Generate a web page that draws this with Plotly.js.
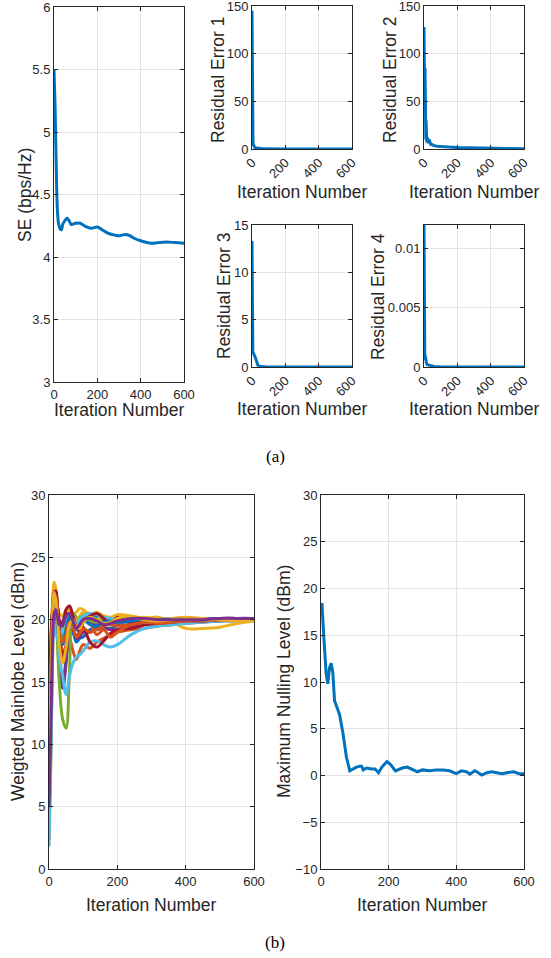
<!DOCTYPE html>
<html>
<head>
<meta charset="utf-8">
<script src="https://cdn.plot.ly/plotly-3.0.1.min.js"></script>
<style>html,body{margin:0;padding:0;background:#fff;}#chart{width:551px;height:958px;}</style>
</head>
<body>
<div id="chart"></div>
<script>
// ---------- data: (a) ----------
const seIter = [0, 5, 10, 15, 20, 25, 30, 35, 40, 50, 60, 70, 80, 100, 120, 140, 170, 200, 220, 250, 280, 300, 330, 350, 370, 400, 420, 450, 480, 520, 560, 600];
const seVal  = [5.5, 5.2, 4.75, 4.4, 4.28, 4.24, 4.22, 4.22, 4.26, 4.29, 4.31, 4.29, 4.26, 4.27, 4.27, 4.25, 4.23, 4.24, 4.22, 4.19, 4.175, 4.17, 4.18, 4.17, 4.15, 4.13, 4.12, 4.11, 4.115, 4.12, 4.115, 4.11];

const r1Iter = [0, 1, 2, 3, 4, 5, 6, 8, 10, 15, 20, 30, 40, 60, 80, 100, 150, 200, 300, 400, 500, 600];
const r1Val  = [145, 60, 20, 57, 15, 17, 8, 5, 3, 2, 1.2, 0.8, 0.5, 0.3, 0.2, 0.1, 0.05, 0.03, 0.02, 0.01, 0.01, 0.01];

const r2Iter = [0, 1, 2, 3, 4, 5, 6, 7, 8, 9, 10, 11, 12, 14, 15, 17, 20, 25, 30, 40, 50, 60, 80, 100, 150, 200, 300, 400, 500, 600];
const r2Val  = [128, 40, 115, 45, 95, 38, 85, 30, 50, 12, 45, 10, 30, 8, 12, 7, 12, 6, 10, 5, 4.5, 3.5, 3, 2.5, 2, 1.5, 1, 0.5, 0.4, 0.3];

const r3Iter = [0, 1, 2, 3, 5, 8, 10, 15, 20, 25, 30, 35, 40, 50, 60, 80, 100, 200, 300, 400, 500, 600];
const r3Val  = [13.3, 8, 3, 1.7, 1.6, 1.5, 1.3, 1.2, 1.0, 0.7, 0.35, 0.2, 0.12, 0.06, 0.04, 0.02, 0.01, 0, 0, 0, 0, 0];

const r4Iter = [0, 1, 2, 3, 4, 5, 7, 10, 15, 20, 30, 40, 60, 100, 200, 400, 600];
const r4Val  = [0.012, 0.002, 0.0032, 0.0008, 0.0025, 0.0006, 0.001, 0.0004, 0.0003, 0.0002, 0.00015, 0.0001, 0.00005, 0.00002, 0.00001, 0, 0];

// ---------- data: (b) ----------
const mainIter = [0, 5, 10, 15, 20, 25, 30, 40, 50, 60, 70, 80, 90, 100, 120, 140, 160, 180, 200, 240, 280, 320, 360, 400, 450, 500, 550, 600];
const mainBlue1   = [4.8, 12, 18, 21, 21.5, 20, 17, 14.6, 17, 19.3, 19, 18.2, 18.5, 18.6, 19.2, 19.4, 19.3, 19.3, 19.5, 19.6, 19.6, 19.7, 19.8, 19.8, 19.9, 19.9, 20, 20];
const mainOrange1 = [14.8, 18, 21, 22.5, 21.5, 20, 18.5, 17.5, 17.2, 18.5, 17.5, 16.8, 17.5, 18.0, 17.7, 18.2, 18.5, 18.8, 19.0, 19.2, 19.3, 19.5, 19.6, 19.7, 19.8, 19.9, 19.9, 20];
const mainYellow1 = [13, 17, 21, 23, 22.5, 21, 20.5, 20.3, 20.8, 20.9, 20.5, 20.6, 20.9, 20.8, 20.4, 20.6, 20.3, 20.2, 20.4, 20.3, 20.1, 20.2, 19.8, 19.3, 19.3, 19.4, 19.7, 19.9];
const mainPurple1 = [2.3, 10, 18, 21.5, 22, 20, 16, 14.5, 16.5, 19, 19.2, 18.5, 18.6, 19.0, 19.0, 19.2, 19.3, 19.2, 19.2, 19.5, 19.7, 19.8, 19.9, 19.9, 20.0, 20.0, 20.1, 20.1];
const mainGreen1  = [2.5, 8, 16, 21, 20.5, 18, 15, 12, 11.3, 16, 20.5, 20.2, 19.8, 20.3, 20.5, 20.0, 19.8, 19.9, 20.1, 19.8, 19.9, 20.0, 20.0, 20.0, 20.1, 20.0, 20.0, 20.0];
const mainCyan1   = [1.8, 9, 17, 21, 22, 20, 17, 15.5, 14, 15.5, 16.5, 17, 17.2, 17.5, 18.2, 18.3, 18.0, 17.8, 18.0, 18.8, 19.3, 19.5, 19.6, 19.7, 19.8, 19.9, 19.9, 20];
const mainRed1    = [9, 14, 20, 22.2, 22.3, 21, 18.5, 17, 18, 19.5, 19.2, 18.7, 19.0, 19.4, 18.2, 17.8, 18.3, 18.9, 19.2, 19.3, 19.6, 19.7, 19.8, 19.9, 19.9, 20.0, 20.0, 20.1];
const mainBlue2   = [7.5, 14, 18.5, 19.5, 19.2, 19.7, 19.3, 18.8, 19.0, 19.8, 20.1, 19.8, 19.5, 19.8, 20.1, 20.2, 19.9, 19.8, 20.0, 20.1, 19.9, 20.0, 20.1, 20.0, 20.0, 20.1, 20.0, 20.0];
const mainOrange2 = [10, 15, 19.5, 21, 21.2, 20.5, 19.8, 19.5, 20.2, 20.6, 19.8, 19.6, 20.1, 20.4, 19.8, 18.8, 19.2, 18.6, 19.0, 19.6, 19.8, 19.7, 19.8, 19.9, 19.9, 20.0, 20.0, 20.0];
const mainYellow2 = [9, 14, 19, 21.5, 21, 20.2, 19.5, 19.8, 20.5, 20.8, 20.2, 19.9, 20.3, 20.6, 20.2, 20.0, 20.3, 20.1, 19.9, 20.1, 20.2, 20.0, 20.1, 20.2, 20.1, 20.0, 20.0, 19.9];
const mainPurple2 = [11, 16, 20, 21, 20.5, 19.5, 19.2, 19.8, 20.5, 20.2, 19.6, 19.5, 20.0, 20.2, 19.7, 19.6, 19.8, 19.9, 19.7, 19.9, 20.0, 19.9, 20.0, 20.1, 20.0, 20.1, 20.1, 20.1];
const mainGreen2  = [13.5, 17, 20.5, 21.3, 20.8, 19.8, 19.0, 18.5, 19.5, 20.4, 20.0, 19.7, 20.1, 20.3, 19.9, 19.8, 20.1, 20.0, 19.8, 19.9, 20.0, 20.0, 19.9, 20.0, 20.0, 20.0, 20.0, 20.0];
const mainCyan2   = [14, 17, 19.5, 20, 19.2, 18.5, 18.5, 19.3, 20.0, 19.6, 19.3, 19.6, 20.0, 20.3, 20.5, 20.4, 20.2, 20.1, 20.0, 19.7, 19.8, 19.9, 20.0, 20.0, 20.0, 20.0, 20.0, 20.0];
const mainRed2    = [14.5, 18, 20.5, 21, 20.8, 21, 20, 19.5, 20.8, 21.1, 20.3, 19.4, 19.0, 19.8, 20.3, 20.5, 20.1, 19.7, 20.2, 19.7, 19.9, 20.0, 20.0, 20.0, 20.0, 20.0, 20.0, 20.0];
const mainBlue3   = [6, 13, 19, 21.8, 21, 19.5, 18.5, 18, 19.2, 20.2, 19.8, 19.2, 19.5, 20.0, 19.6, 19.5, 19.8, 19.9, 19.8, 19.9, 20.0, 20.0, 20.0, 20.0, 20.0, 20.1, 20.0, 20.0];
const mainOrange3 = [12, 16, 20, 22, 21.8, 20.5, 19, 18.2, 18.8, 19.8, 19.4, 18.6, 18.9, 19.3, 19.0, 19.2, 19.5, 19.6, 19.5, 19.6, 19.8, 19.8, 19.9, 19.9, 20.0, 20.0, 20.0, 20.0];
const mainYellow3 = [8, 14, 19.5, 22.2, 21.5, 20.0, 18.0, 16.5, 17.8, 19.6, 20.0, 19.4, 19.3, 19.8, 20.2, 20.0, 19.7, 19.8, 20.1, 20.2, 20.0, 19.9, 20.0, 20.1, 20.0, 20.0, 19.9, 19.9];
const mainPurple3 = [5, 11, 17.5, 20.5, 20.8, 20.2, 19.6, 19.6, 20.3, 20.5, 19.9, 19.3, 19.6, 20.0, 20.1, 19.9, 19.6, 19.7, 19.9, 20.1, 20.1, 20.0, 20.0, 20.0, 20.0, 20.1, 20.1, 20.1];

const nullIter = [0, 3, 8, 15, 20, 25, 30, 35, 40, 45, 55, 65, 75, 85, 95, 105, 115, 120, 125, 135, 150, 160, 170, 180, 195, 205, 220, 240, 255, 275, 285, 300, 320, 340, 360, 380, 400, 415, 430, 440, 455, 465, 475, 490, 505, 520, 535, 550, 570, 585, 600];
const nullVal  = [18.3, 18.3, 15, 11, 9.8, 11.5, 12, 11, 8, 7.5, 6.5, 4.5, 2, 0.5, 0.7, 0.9, 1.0, 1.0, 0.6, 0.8, 0.7, 0.7, 0.3, 0.9, 1.5, 1.2, 0.5, 0.8, 0.9, 0.6, 0.4, 0.6, 0.5, 0.6, 0.6, 0.5, 0.2, 0.5, 0.4, 0.15, 0.5, 0.3, 0.05, 0.3, 0.4, 0.3, 0.2, 0.3, 0.4, 0.2, 0.2];

const iterTicks = [0, 200, 400, 600];
const xTitle = 'Iteration Number';

// ---------- styling ----------
const W = 551, H = 958;
const TXT = '#262626';
const FONT = 'Arial, Liberation Sans, sans-serif';
const BLUE = '#0072BD';
const mlColors = ['#0072BD', '#D95319', '#EDB120', '#7E2F8E', '#77AC30', '#4DBEEE', '#A2142F'];

function dx(l, r) { return [l / W, r / W]; }
function dy(t, b) { return [1 - b / H, 1 - t / H]; }

function ax(domain, range, extra) {
  return Object.assign({
    domain: domain, range: range, autorange: false,
    showline: true, linecolor: TXT, linewidth: 1, mirror: 'ticks',
    ticks: 'inside', ticklen: 4, tickcolor: TXT,
    showgrid: true, gridcolor: '#e4e4e4', gridwidth: 1, zeroline: false,
    ticklabeloverflow: 'allow',
    tickfont: { family: FONT, size: 13, color: TXT }
  }, extra || {});
}

const traces = [];
function addLine(x, y, xa, ya, color, width, shape) {
  traces.push({ type: 'scatter', mode: 'lines', x: x, y: y, xaxis: xa, yaxis: ya,
    line: { color: color, width: width, shape: shape || 'linear' }, showlegend: false, hoverinfo: 'skip' });
}

addLine(seIter, seVal, 'x', 'y', BLUE, 3, 'spline');
addLine(r1Iter, r1Val, 'x2', 'y2', BLUE, 3);
addLine(r2Iter, r2Val, 'x3', 'y3', BLUE, 3);
addLine(r3Iter, r3Val, 'x4', 'y4', BLUE, 3);
addLine(r4Iter, r4Val, 'x5', 'y5', BLUE, 3);

const mainSeries = [mainBlue1, mainOrange1, mainYellow1, mainPurple1, mainGreen1, mainCyan1, mainRed1,
                    mainBlue2, mainOrange2, mainYellow2, mainPurple2, mainGreen2, mainCyan2, mainRed2,
                    mainBlue3, mainOrange3, mainYellow3, mainPurple3];
mainSeries.forEach((s, i) => addLine(mainIter, s, 'x6', 'y6', mlColors[i % 7], 3, 'spline'));
addLine(nullIter, nullVal, 'x7', 'y7', BLUE, 3);

const resX = (d) => ax(d, [0, 600], { tickvals: iterTicks, tickangle: -45 });
const normX = (d) => ax(d, [0, 600], { tickvals: iterTicks });

// axis titles placed as annotations (pixel centres)
const titleFont = { family: FONT, size: 17.5, color: TXT };
function label(text, cx, cy, angle) {
  return { text: text, x: cx / W, y: 1 - cy / H, xref: 'paper', yref: 'paper', showarrow: false,
    xanchor: 'center', yanchor: 'middle', textangle: angle || 0, font: titleFont };
}
const serif = { family: 'Liberation Serif, Times New Roman, serif', size: 17, color: '#000' };

const layout = {
  width: W, height: H,
  margin: { l: 0, r: 0, t: 0, b: 0 },
  paper_bgcolor: '#fff', plot_bgcolor: '#fff',
  showlegend: false,
  xaxis:  normX(dx(54, 184)),
  yaxis:  ax(dy(7, 382), [3, 6], { tickvals: [3, 3.5, 4, 4.5, 5, 5.5, 6] }),
  xaxis2: resX(dx(252, 352)),
  yaxis2: ax(dy(6, 149), [0, 150], { tickvals: [0, 50, 100, 150] }),
  xaxis3: resX(dx(424, 524)),
  yaxis3: ax(dy(6, 149), [0, 150], { tickvals: [0, 50, 100, 150] }),
  xaxis4: resX(dx(252, 352)),
  yaxis4: ax(dy(225, 367), [0, 15], { tickvals: [0, 5, 10, 15] }),
  xaxis5: resX(dx(424, 524)),
  yaxis5: ax(dy(225, 367), [0, 0.012], { tickvals: [0, 0.005, 0.01], ticktext: ['0', '0.005', '0.01'] }),
  xaxis6: normX(dx(49, 254)),
  yaxis6: ax(dy(495, 869), [0, 30], { tickvals: [0, 5, 10, 15, 20, 25, 30] }),
  xaxis7: normX(dx(321, 524)),
  yaxis7: ax(dy(495, 869), [-10, 30], { tickvals: [-10, -5, 0, 5, 10, 15, 20, 25, 30] }),
  annotations: [
    label('SE (bps/Hz)', 25, 195, -90),
    label(xTitle, 119, 410),
    label('Residual Error 1', 218, 80, -90),
    label(xTitle, 302, 192),
    label('Residual Error 2', 390, 80, -90),
    label(xTitle, 474, 192),
    label('Residual Error 3', 224, 296, -90),
    label(xTitle, 302, 409),
    label('Residual Error 4', 378, 297, -90),
    label(xTitle, 474, 409),
    label('Weigted Mainlobe Level (dBm)', 18, 682, -90),
    label(xTitle, 151, 905),
    label('Maximum Nulling Level (dBm)', 284, 682, -90),
    label(xTitle, 422, 905),
    { text: '(a)', x: 275 / W, y: 1 - 457 / H, xref: 'paper', yref: 'paper', showarrow: false, xanchor: 'center', yanchor: 'middle', font: serif },
    { text: '(b)', x: 275 / W, y: 1 - 942 / H, xref: 'paper', yref: 'paper', showarrow: false, xanchor: 'center', yanchor: 'middle', font: serif }
  ]
};
layout.xaxis.anchor = 'y';
layout.yaxis.anchor = 'x';
for (let i = 2; i <= 7; i++) { layout['xaxis' + i].anchor = 'y' + i; layout['yaxis' + i].anchor = 'x' + i; }

Plotly.newPlot('chart', traces, layout, { staticPlot: true, displayModeBar: false });
</script>
</body>
</html>
